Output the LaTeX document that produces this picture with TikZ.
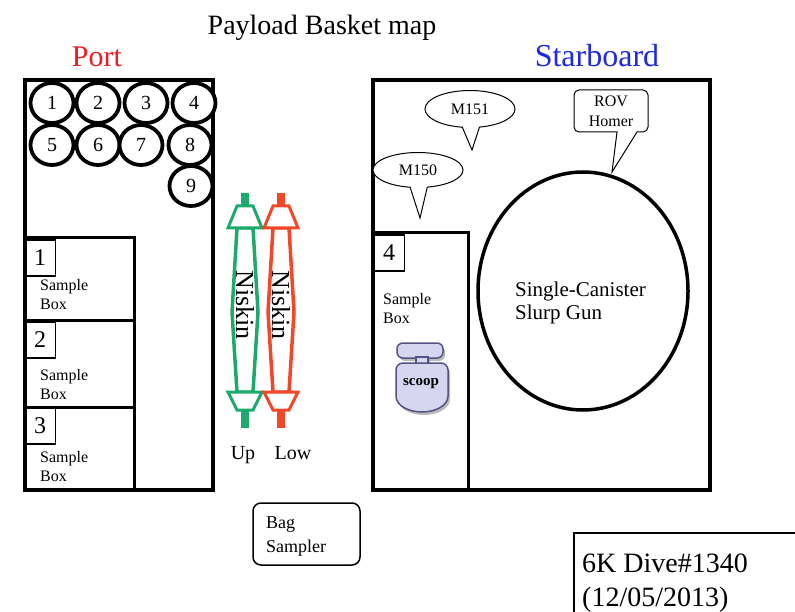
\documentclass[tikz,border=0pt]{standalone}
\usepackage{fontspec}
\setmainfont{Liberation Serif}
\usepackage{tikz}
\usetikzlibrary{arrows.meta,calc,positioning,shapes.geometric,shapes.callouts,shadows}

\definecolor{portred}{RGB}{236,28,36}
\definecolor{sbblue}{RGB}{30,40,230}
\definecolor{niskgreen}{RGB}{30,170,110}
\definecolor{niskred}{RGB}{242,72,40}
\definecolor{scoopfill}{RGB}{214,214,240}
\definecolor{scoopedge}{RGB}{84,84,130}

\begin{document}
\begin{tikzpicture}[
    x=1pt,
    y=-1pt,
    basket/.style={line width=4pt},
    boxline/.style={line width=3pt},
    tube/.style={ellipse, draw, line width=3.8pt, minimum width=43pt,
        minimum height=40pt, inner sep=0pt, font=\fontsize{20}{22}\selectfont},
    numbox/.style={draw, line width=1.5pt, minimum width=31pt,
        minimum height=36pt, inner sep=0pt, font=\fontsize{24}{26}\selectfont},
    boxtext/.style={anchor=north west, align=left, inner sep=0pt,
        font=\fontsize{16}{19}\selectfont},
    bubble/.style={ellipse callout, draw, line width=1pt, fill=white,
        minimum width=90pt, minimum height=37pt, inner sep=0pt,
        callout pointer arc=22, font=\fontsize{16}{18}\selectfont},
    niskbody/.style={line width=3.5pt, line join=round},
    niskend/.style={line width=3pt, fill=white},
    scoopline/.style={draw=scoopedge, fill=scoopfill, line width=1.5pt,
        drop shadow={shadow xshift=2pt, shadow yshift=-3pt, fill=black!45, opacity=.6}}
]

\useasboundingbox (0,0) rectangle (795,612);
\fill[white] (0,0) rectangle (795,612);

% Napisy u gory
\node[anchor=base, font=\fontsize{28}{30}\selectfont] (title) at (322,35)
    {Payload Basket map};
\node[anchor=base, text=portred, font=\fontsize{30}{32}\selectfont] (port) at (97,67)
    {Port};
\node[anchor=base, text=sbblue, font=\fontsize{32}{34}\selectfont] (stbd) at (597,67)
    {Starboard};

% Kosz lewy
\draw[basket]
    (25,80)
    rectangle
    (213,490);

% Butle 1--9
\foreach \n/\cx/\cy in {1/52/103, 2/98/103, 3/146/103, 4/194/103,
                        5/52/145, 6/98/145, 7/141/145, 8/190/145, 9/191/186}
    \node[tube, fill=white] (t\n) at (\cx,\cy) {\n};

% Skrzynki na probki
\draw[boxline] (25,238) rectangle (134,320);
\draw[boxline] (25,320) rectangle (134,407);
\draw[boxline] (25,407) rectangle (134,490);

\node[numbox] (nb1) at (40,258) {1};
\node[numbox] (nb2) at (40,340) {2};
\node[numbox] (nb3) at (40,426) {3};

\node[boxtext] (sb1) at (40,279) {Sample\\Box};
\node[boxtext] (sb2) at (40,369) {Sample\\Box};
\node[boxtext] (sb3) at (40,451) {Sample\\Box};

% Butle Niskin
\foreach \cx/\col/\nm in {245/niskgreen/up, 281/niskred/low} {
    \draw[niskbody, draw=\col]
        (\cx-8,228) -- (\cx-13,312) -- (\cx-8,392)
        -- (\cx+8,392) -- (\cx+13,312) -- (\cx+8,228) -- cycle;
    \fill[\col] (\cx-4,193) rectangle (\cx+4,207);
    \fill[\col] (\cx-4,410) rectangle (\cx+4,428);
    \draw[niskend, draw=\col]
        (\cx-8,206) -- (\cx+8,206) -- (\cx+17,228) -- (\cx-17,228) -- cycle;
    \draw[niskend, draw=\col]
        (\cx-17,392) -- (\cx+17,392) -- (\cx+8,410) -- (\cx-8,410) -- cycle;
    \node[rotate=-90, font=\fontsize{26}{28}\selectfont] (n\nm) at (\cx,305) {Niskin};
}

\node[anchor=base, font=\fontsize{20}{22}\selectfont] (up) at (243,459) {Up};
\node[anchor=base, font=\fontsize{20}{22}\selectfont] (low) at (293,459) {Low};

% Bag sampler
\draw[line width=1.5pt, rounded corners=8pt]
    (253,503)
    rectangle
    (360,565);
\node[anchor=north west, align=left, inner sep=0pt,
      font=\fontsize{18}{24}\selectfont] (bag) at (266,517) {Bag\\Sampler};

% Kosz prawy
\draw[basket]
    (373,80)
    rectangle
    (710,490);

\draw[boxline] (373,233) rectangle (468,490);
\node[numbox] (nb4) at (389,253) {4};
\node[boxtext] (sb4) at (383,293) {Sample\\Box};

% Czerpak
\draw[scoopline, rounded corners=6pt] (397,343) rectangle (443,358);
\draw[scoopline] (416,357) rectangle (428,364);
\draw[scoopline]
    (396,396) [rounded corners=7pt] -- (396,363) -- (448,363) [sharp corners] -- (448,396)
    .. controls (448,406) and (435,412) .. (422,412)
    .. controls (409,412) and (396,406) .. (396,396) -- cycle;
\node[font=\bfseries\fontsize{15}{17}\selectfont] (scoop) at (421,384) {scoop};

% Slurp gun
\node[ellipse, draw, line width=3.5pt, minimum width=210pt, minimum height=238pt]
    (gun) at (583,291) {};
\node[anchor=north west, align=left, inner sep=0pt,
      font=\fontsize{21}{23}\selectfont] (gunlbl) at (515,282) {Single-Canister\\Slurp Gun};

% Dymki
\node[bubble, callout absolute pointer={(472,150)}] (m151) at (470,109) {M151};
\node[bubble, minimum height=35pt, callout absolute pointer={(420,218)}] (m150) at (418,170) {M150};

\draw[line width=1pt, fill=white]
    (617,132) [rounded corners=5pt] -- (574,132) -- (574,90) -- (648,90) -- (648,132)
    [sharp corners] -- (637,132) -- (612,172) -- cycle;
\node[align=center, font=\fontsize{16}{20}\selectfont] (rov) at (611,111) {ROV\\Homer};

% Numer nurkowania
\draw[line width=1.5pt]
    (574,612)
    --
    (574,533)
    --
    (795,533);
\node[anchor=north west, align=left, inner sep=0pt,
      font=\fontsize{28}{34}\selectfont] (dive) at (582,554) {6K Dive\#1340\\(12/05/2013)};

\end{tikzpicture}
\end{document}
